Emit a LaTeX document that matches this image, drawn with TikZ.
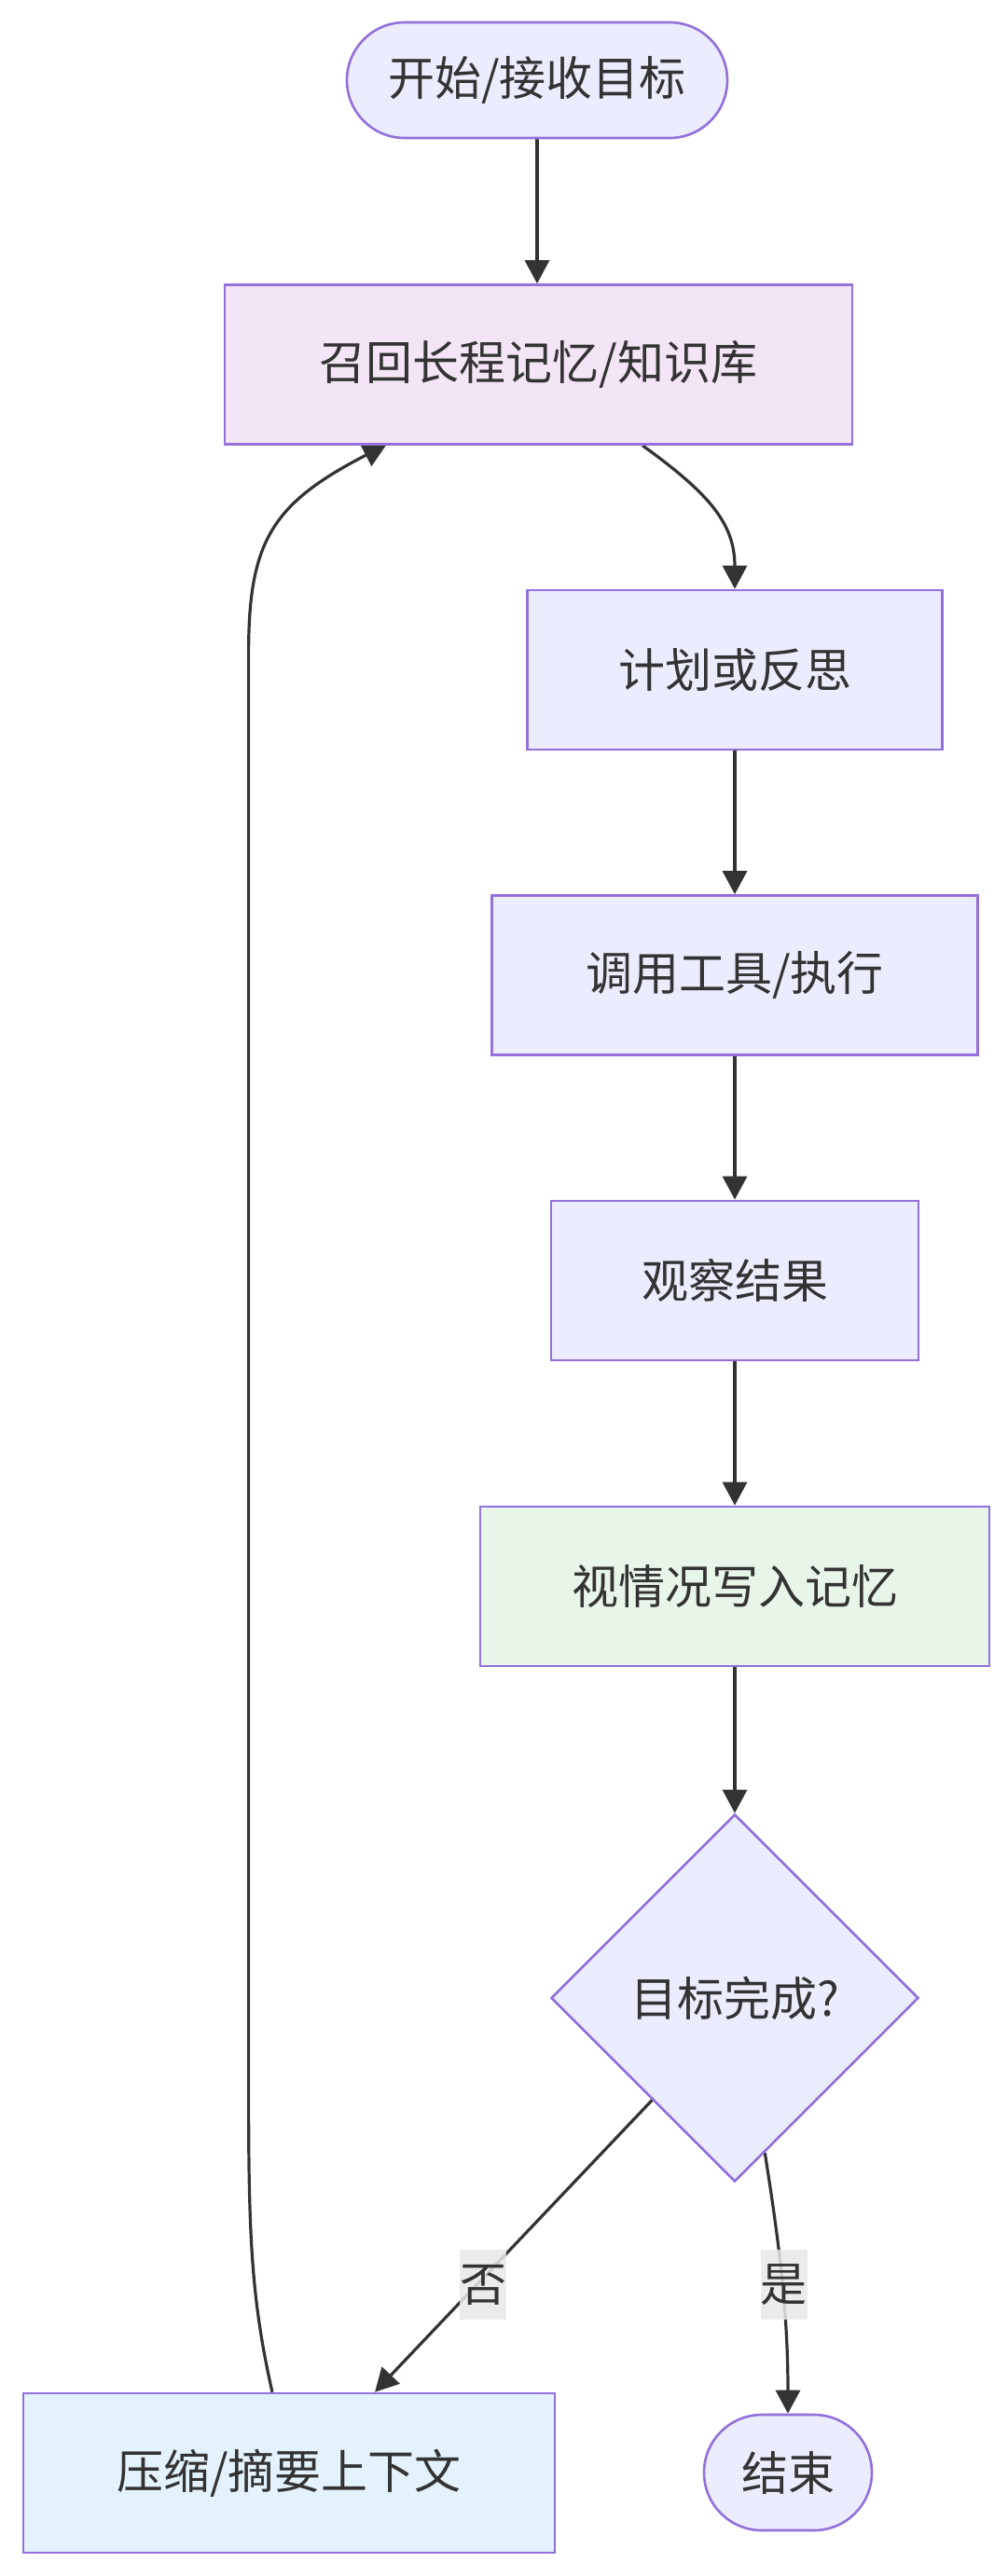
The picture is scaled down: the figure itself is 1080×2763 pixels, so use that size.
\documentclass[tikz,border=0pt]{standalone}
\usepackage{fontspec}
\setmainfont{Noto Sans CJK SC}
\usetikzlibrary{arrows.meta,shapes.geometric}
\pgfdeclarelayer{paper}
\pgfdeclarelayer{edges}
\pgfsetlayers{paper,edges,main}
\definecolor{nodefill}{HTML}{ECECFF}
\definecolor{nodeline}{HTML}{9370DB}
\definecolor{recallfill}{HTML}{F3E5F5}
\definecolor{memfill}{HTML}{E8F5E9}
\definecolor{compfill}{HTML}{E3F2FD}
\definecolor{edgecol}{HTML}{333333}
\definecolor{labelbg}{HTML}{E8E8E8}
\tikzset{
  base/.style={draw=nodeline, line width=2.6pt, fill=nodefill, text=edgecol,
    font=\fontsize{50}{60}\selectfont, inner sep=0pt, align=center},
  procbox/.style={base, rectangle, minimum height=171pt},
  stadium/.style={base, rectangle, rounded corners=62pt, minimum height=124pt},
  decision/.style={base, diamond, aspect=1, minimum width=394pt, minimum height=394pt},
  edge/.style={draw=edgecol, line width=3.2pt, -{Triangle[length=25pt,width=26pt]}},
  elabel/.style={fill=labelbg, fill opacity=0.85, text opacity=1, text=edgecol,
    font=\fontsize{50}{60}\selectfont, inner sep=0pt, minimum width=50pt, minimum height=75pt}
}
\begin{document}
\begin{tikzpicture}[x=1pt, y=-1pt]
\begin{pgfonlayer}{paper}
\useasboundingbox[fill=white] (0,0) rectangle (1080,2763);
\end{pgfonlayer}
\node[stadium, minimum width=408pt] (start) at (576,86) {开始/接收目标};
\node[procbox, fill=recallfill, minimum width=673pt] (recall) at (577.5,391) {召回长程记忆/知识库};
\node[procbox, minimum width=445pt] (plan) at (788,718.5) {计划或反思};
\node[procbox, minimum width=521pt] (tool) at (788,1046) {调用工具/执行};
\node[procbox, minimum width=394pt] (obs) at (788,1373.5) {观察结果};
\node[procbox, fill=memfill, minimum width=546pt] (mem) at (788,1701.5) {视情况写入记忆};
\node[decision] (dec) at (788,2143) {目标完成?};
\node[procbox, fill=compfill, minimum width=570pt] (comp) at (310,2652.5) {压缩/摘要上下文};
\node[stadium, minimum width=180pt] (end) at (845,2652) {结束};

\coordinate (lb) at (266.6,2250);
\coordinate (lt) at (266.6,700);

\begin{pgfonlayer}{edges}
\draw[edge] (start.south) -- (start.south |- recall.north);
\draw[edge] ([xshift=111.5pt]recall.south) .. controls +(72,52) and +(0,-70) .. (plan.north);
\draw[edge] (plan.south) -- (tool.north);
\draw[edge] (tool.south) -- (obs.north);
\draw[edge] (obs.south) -- (mem.north);
\draw[edge] (mem.south) -- (dec.north);
\draw[edge] (dec.231) -- ([xshift=92pt]comp.north);
\draw[edge] (dec.281) .. controls +(15,95) and +(0,-110) .. (end.north);
\draw[edge] ([xshift=-18pt]comp.north) .. controls +(-22,-97) and +(0,150) .. (lb)
  -- (lt) .. controls +(0,-120) and (292,540) .. ([xshift=-163pt,yshift=1pt]recall.south);
\end{pgfonlayer}

\node[elabel] (no) at (518,2450.5) {否};
\node[elabel] (yes) at (840.5,2450.5) {是};
\end{tikzpicture}
\end{document}
